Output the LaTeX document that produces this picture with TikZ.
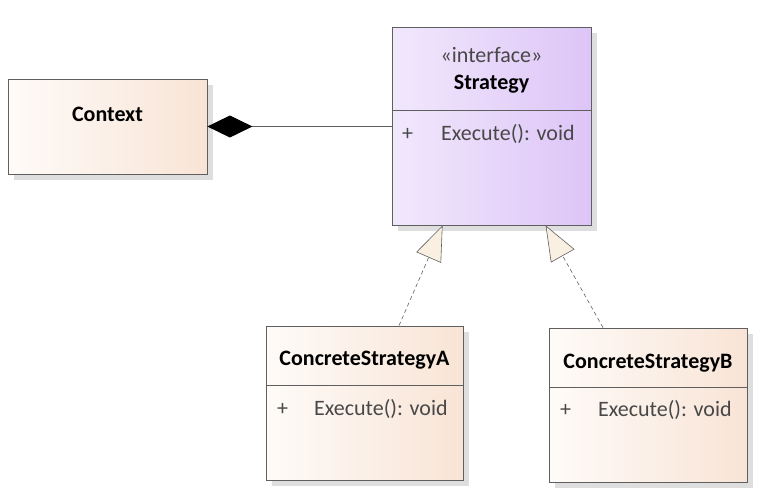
\documentclass[tikz,border=0pt]{standalone}
\usepackage{fontspec}
\setmainfont{Carlito}
\usetikzlibrary{arrows.meta,shadows,positioning}

\definecolor{peachL}{RGB}{254,251,248}
\definecolor{peachR}{RGB}{248,228,214}
\definecolor{lilacL}{RGB}{241,232,252}
\definecolor{lilacR}{RGB}{221,197,247}
\definecolor{edge}{RGB}{95,95,95}
\definecolor{txt}{RGB}{72,72,72}
\definecolor{tri}{RGB}{250,240,226}

\begin{document}
\begin{tikzpicture}[x=1pt, y=-1pt,
    every node/.style={font=\fontsize{22}{26}\selectfont, inner sep=0pt},
    classbox/.style={draw=edge, line width=0.8pt, rectangle,
      drop shadow={shadow xshift=6pt, shadow yshift=-6pt, fill=black!13, opacity=1}},
    peach/.style={classbox, left color=peachL, right color=peachR},
    lilac/.style={classbox, left color=lilacL, right color=lilacR},
    classname/.style={font=\fontsize{22}{26}\selectfont\bfseries, text=black},
    member/.style={text=txt, anchor=west},
    sep/.style={draw=edge, line width=0.6pt},
    composition/.style={draw=edge, line width=0.8pt, arrows={Diamond[length=45pt,width=22pt,color=black]-}},
    realize/.style={draw=edge, line width=0.6pt, dash pattern=on 4pt off 3pt,
      arrows={-Triangle[length=35pt,width=27pt,color=edge,fill=tri,line width=0.6pt]}},
    ]
    \useasboundingbox (0,0) rectangle (762,498);

    % classes
    \node[peach, minimum width=199pt, minimum height=95pt] (context) at (107.5,126.5) {};
    \node[lilac, minimum width=199pt, minimum height=198pt] (strategy) at (491.5,126) {};
    \node[peach, minimum width=197pt, minimum height=154pt] (concreteA) at (364.5,403) {};
    \node[peach, minimum width=198pt, minimum height=154pt] (concreteB) at (648,405) {};

    \node[classname] (contextname) at (107.5,114) {Context};

    \node[text=txt] (stereotype) at (491.5,55) {«interface»};
    \node[classname] (strategyname) at (491.5,84) {Strategy};
    \draw[sep] (strategy.west |- 0,110) -- (strategy.east |- 0,110);
    \node[member] (strategyplus) at (402,134) {+};
    \node[member] (strategyop) at (441,134) {Execute(): void};

    \node[classname] (concreteAname) at (364.5,360) {ConcreteStrategyA};
    \draw[sep] (concreteA.west |- 0,385) -- (concreteA.east |- 0,385);
    \node[member] (concreteAplus) at (277,409) {+};
    \node[member] (concreteAop) at (314,409) {Execute(): void};

    \node[classname] (concreteBname) at (648,363) {ConcreteStrategyB};
    \draw[sep] (concreteB.west |- 0,387) -- (concreteB.east |- 0,387);
    \node[member] (concreteBplus) at (560,410) {+};
    \node[member] (concreteBop) at (598,410) {Execute(): void};

    % relations
    \draw[composition] (context.east) -- (context.east -| strategy.west);
    \draw[realize] (concreteA.north -| 399,0) -- ([xshift=51pt]strategy.south west);
    \draw[realize] (concreteB.north -| 603,0) -- ([xshift=154pt]strategy.south west);

\end{tikzpicture}
\end{document}
